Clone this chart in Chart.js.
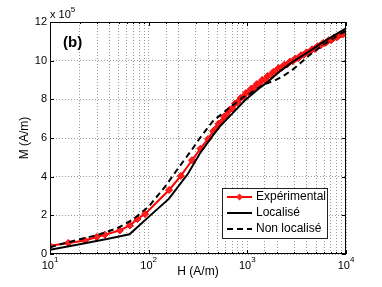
<!DOCTYPE html>
<html>
<head>
<meta charset="utf-8">
<script src="https://cdn.jsdelivr.net/npm/chart.js@4.4.0/dist/chart.umd.min.js"></script>
<style>
  html, body { margin: 0; padding: 0; background: #fff; }
  #chart { display: block; }
</style>
</head>
<body>
<canvas id="chart" width="382" height="287"></canvas>
<script>
// H in A/m, M in units of 1e5 A/m
const expH = [10, 15.3, 22.6, 29.7, 36, 51, 64.5, 77, 92, 161, 212, 275, 335, 400, 450,
  480, 510, 545, 580, 620, 660, 705, 750, 800, 855, 910, 970, 1030, 1100, 1170, 1250,
  1330, 1420, 1510, 1610, 1720, 1830, 1950, 2080, 2220, 2370, 2530, 2700, 2880, 3070,
  3280, 3500, 3730, 3980, 4250, 4530, 4830, 5150, 5500, 5870, 6260, 6680, 7120, 7600,
  8100, 8650, 9230, 9850];
const expM = [0.42, 0.57, 0.70, 0.88, 1.00, 1.22, 1.48, 1.81, 2.07, 3.31, 4.04, 4.85, 5.45, 5.95, 6.35,
  6.48, 6.74, 6.83, 7.10, 7.21, 7.46, 7.53, 7.78, 7.85, 8.07, 8.13, 8.33, 8.37, 8.56, 8.60, 8.79,
  8.82, 9.01, 9.03, 9.21, 9.24, 9.42, 9.46, 9.62, 9.63, 9.79, 9.80, 9.95, 9.97, 10.11,
  10.13, 10.28, 10.30, 10.43, 10.45, 10.59, 10.60, 10.75, 10.78, 10.92, 10.93, 11.06, 11.07, 11.20,
  11.21, 11.34, 11.35, 11.45];

const locH = [10, 20, 40, 64, 100, 160, 250, 330, 450, 527, 714, 946, 1300, 1580, 2200, 2900, 4300, 6000, 10000];
const locM = [0.22, 0.5, 0.8, 1.02, 1.92, 2.85, 4.15, 5.2, 6.15, 6.6, 7.3, 7.95, 8.55, 8.87, 9.5, 9.95, 10.5, 11.0, 11.67];

const nonLocH = [10, 15, 30, 48, 70, 100, 150, 200, 275, 331, 447, 665, 901, 1062, 1440, 1900, 2300, 2900, 3500, 4300, 6000, 8000, 10000];
const nonLocM = [0.35, 0.6, 0.98, 1.33, 1.8, 2.45, 3.55, 4.45, 5.4, 6.0, 6.87, 7.58, 8.1, 8.3, 8.75, 8.98, 9.2, 9.55, 9.9, 10.3, 10.85, 11.25, 11.55];

const yTicks = [0, 2, 4, 6, 8, 10, 12];
const xDecades = [1, 2, 3, 4];
const seriesNames = ['Expérimental', 'Localisé', 'Non localisé'];

const FONT = '"Liberation Sans", Arial, sans-serif';
const toPoints = (xs, ys) => xs.map((v, i) => ({x: v, y: ys[i]}));

// matlab-like frame, ticks, labels and legend
const decorations = {
  id: 'decorations',
  afterDraw(chart) {
    const {ctx, chartArea: ca, scales: {x, y}} = chart;
    ctx.save();
    ctx.setLineDash([]);
    ctx.strokeStyle = '#000';
    ctx.lineWidth = 1;
    ctx.strokeRect(ca.left + 0.5, ca.top + 0.5, ca.width - 1, ca.height - 1);

    // inward ticks
    ctx.beginPath();
    x.ticks.forEach(t => {
      const px = Math.round(x.getPixelForValue(t.value)) + 0.5;
      const lg = Math.log10(t.value);
      const len = Math.abs(lg - Math.round(lg)) < 1e-6 ? 4 : 2;
      ctx.moveTo(px, ca.bottom); ctx.lineTo(px, ca.bottom - len);
      ctx.moveTo(px, ca.top); ctx.lineTo(px, ca.top + len);
    });
    yTicks.forEach(v => {
      const py = Math.round(y.getPixelForValue(v)) + 0.5;
      ctx.moveTo(ca.left, py); ctx.lineTo(ca.left + 4, py);
      ctx.moveTo(ca.right, py); ctx.lineTo(ca.right - 4, py);
    });
    ctx.stroke();

    ctx.fillStyle = '#000';
    ctx.textBaseline = 'middle';

    // y tick labels
    ctx.font = '11px ' + FONT;
    ctx.textAlign = 'right';
    yTicks.forEach(v => ctx.fillText(String(v), ca.left - 3, y.getPixelForValue(v)));

    // x tick labels 10^n
    ctx.textAlign = 'left';
    xDecades.forEach(d => {
      const px = x.getPixelForValue(Math.pow(10, d));
      ctx.font = '11px ' + FONT;
      const w1 = ctx.measureText('10').width;
      ctx.font = '8px ' + FONT;
      const w2 = ctx.measureText(String(d)).width;
      const start = px - (w1 + w2) / 2;
      ctx.font = '11px ' + FONT;
      ctx.fillText('10', start, ca.bottom + 12);
      ctx.font = '8px ' + FONT;
      ctx.fillText(String(d), start + w1, ca.bottom + 6);
    });

    // exponent for y
    ctx.font = '11px ' + FONT;
    const wx = ctx.measureText('x 10').width;
    ctx.fillText('x 10', ca.left, ca.top - 7);
    ctx.font = '8px ' + FONT;
    ctx.fillText('5', ca.left + wx, ca.top - 12);

    // panel label
    ctx.font = 'bold 15px ' + FONT;
    ctx.fillText('(b)', ca.left + 13, ca.top + 21);

    // axis titles
    ctx.font = '12px ' + FONT;
    ctx.textAlign = 'center';
    ctx.fillText('H (A/m)', (ca.left + ca.right) / 2, ca.bottom + 18);
    ctx.save();
    ctx.translate(ca.left - 25, (ca.top + ca.bottom) / 2);
    ctx.rotate(-Math.PI / 2);
    ctx.fillText('M (A/m)', 0, 0);
    ctx.restore();

    // legend
    const lw = 105, lh = 50;
    const lx = Math.round(ca.right - 19 - lw), ly = Math.round(ca.bottom - 16 - lh);
    ctx.fillStyle = '#fff';
    ctx.fillRect(lx, ly, lw, lh);
    ctx.strokeStyle = '#222';
    ctx.lineWidth = 1;
    ctx.strokeRect(lx + 0.5, ly + 0.5, lw, lh);
    ctx.font = '12px ' + FONT;
    ctx.textAlign = 'left';
    seriesNames.forEach((name, i) => {
      const ds = chart.data.datasets[i];
      const ry = ly + 9 + i * 16;
      ctx.strokeStyle = ds.borderColor;
      ctx.lineWidth = 2;
      ctx.setLineDash(ds.borderDash || []);
      ctx.beginPath();
      ctx.moveTo(lx + 5, ry); ctx.lineTo(lx + 30, ry);
      ctx.stroke();
      ctx.setLineDash([]);
      if (ds.pointRadius > 0) {
        const cx = lx + 17.5, r = 3.5;
        ctx.fillStyle = ds.pointBackgroundColor;
        ctx.beginPath();
        ctx.moveTo(cx, ry - r); ctx.lineTo(cx + r, ry); ctx.lineTo(cx, ry + r); ctx.lineTo(cx - r, ry);
        ctx.closePath();
        ctx.fill();
      }
      ctx.fillStyle = '#000';
      ctx.fillText(name, lx + 34, ry);
    });
    ctx.restore();
  }
};

const gridOpts = {color: '#9a9a9a', lineWidth: 1, drawTicks: false};

new Chart(document.getElementById('chart').getContext('2d'), {
  type: 'line',
  data: {
    datasets: [
      {
        label: seriesNames[0],
        data: toPoints(expH, expM),
        borderColor: '#ff0000',
        borderWidth: 2,
        pointStyle: 'rectRot',
        pointRadius: 3.5,
        pointBackgroundColor: '#ff2020',
        pointBorderColor: '#ff0000',
        pointBorderWidth: 1,
        order: 3
      },
      {
        label: seriesNames[1],
        data: toPoints(locH, locM),
        borderColor: '#000000',
        borderWidth: 2,
        pointRadius: 0,
        order: 2
      },
      {
        label: seriesNames[2],
        data: toPoints(nonLocH, nonLocM),
        borderColor: '#000000',
        borderWidth: 2,
        borderDash: [6, 4],
        pointRadius: 0,
        order: 1
      }
    ]
  },
  options: {
    responsive: false,
    animation: false,
    devicePixelRatio: 1,
    layout: {padding: {left: 50, right: 36, top: 22, bottom: 33}},
    plugins: {legend: {display: false}, tooltip: {enabled: false}},
    scales: {
      x: {
        type: 'logarithmic',
        min: 10,
        max: 10000,
        ticks: {display: false},
        grid: gridOpts,
        border: {display: false, dash: [1, 2]}
      },
      y: {
        type: 'linear',
        min: 0,
        max: 12,
        ticks: {display: false, stepSize: 2},
        grid: gridOpts,
        border: {display: false, dash: [1, 2]}
      }
    }
  },
  plugins: [decorations]
});
</script>
</body>
</html>
